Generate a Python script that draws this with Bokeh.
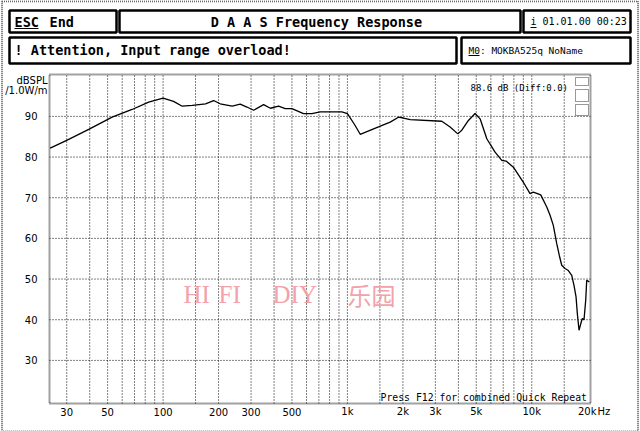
import math
from bokeh.plotting import figure
from bokeh.models import Range1d, LogScale, LinearScale
from bokeh.embed import file_html
from bokeh.resources import INLINE
from bokeh.core.properties import value

# ---- data ----
freq_hz = [24.4, 30, 39.5, 52.9, 67.9, 83.5, 100, 114, 127, 144, 170, 188, 204, 237, 262,
           285, 310, 351, 382, 423, 460, 500, 578, 642, 712, 933, 1000, 1093, 1173, 1474,
           1706, 1892, 2014, 2190, 3250, 3607, 3970, 4174, 4533, 4928, 5246, 5703, 6324,
           6877, 7258, 7950, 9006, 9790, 10200, 11190, 12060, 12570, 13090, 13660, 14110,
           14540, 15150, 15790, 16480, 16960, 17390, 17670, 18050, 18440, 18810, 19210,
           19620, 19870, 20520]
spl_db = [82.2, 84.1, 86.8, 89.8, 91.7, 93.5, 94.5, 93.7, 92.5, 92.7, 93.1, 93.9, 93.1, 92.5,
          93.0, 92.3, 91.5, 92.9, 92.0, 92.5, 91.9, 91.9, 90.7, 90.7, 91.1, 91.1, 90.7, 88.0,
          85.6, 87.4, 88.6, 89.8, 89.6, 89.2, 88.8, 87.4, 85.7, 86.6, 89.0, 90.7, 89.4, 84.5,
          81.2, 79.2, 79.0, 77.5, 73.8, 71.0, 71.4, 70.7, 67.7, 65.7, 63.2, 58.7, 55.8, 53.4,
          52.6, 52.1, 50.9, 48.4, 45.6, 41.5, 37.4, 39.0, 40.3, 40.0, 44.8, 49.7, 49.3]

x_ticks = [30, 50, 100, 200, 300, 500, 1000, 2000, 3000, 5000, 10000, 20000]
x_tick_labels = ["30", "50", "100", "200", "300", "500", "1k", "2k", "3k", "5k", "10k", "20k"]
x_grid = [30, 40, 50, 60, 70, 80, 90, 100, 150, 200, 300, 400, 500, 600, 700, 800, 900,
          1000, 1500, 2000, 3000, 4000, 5000, 6000, 7000, 8000, 9000, 10000, 15000]
y_ticks = [30, 40, 50, 60, 70, 80, 90]
y_tick_labels = ["30", "40", "50", "60", "70", "80", "90"]

F_MIN, F_MAX = 24.2, 20830.0      # axis limits (Hz)
DB_MIN, DB_MAX = 19.4, 100.3      # axis limits (dB)

W, H = 640, 431
PL, PR, PT, PB = 49, 590, 74, 403  # plot area on the canvas (pixels)

# extend the data ranges so that the axis limits land on the plot-area edges
dec_px = (PR - PL) / math.log10(F_MAX / F_MIN)
fx0 = F_MIN / 10 ** (PL / dec_px)
fx1 = F_MAX * 10 ** ((W - PR) / dec_px)
db_px = (PB - PT) / (DB_MAX - DB_MIN)
dy0 = DB_MIN - (H - PB) / db_px
dy1 = DB_MAX + PT / db_px

MONO = "DejaVu Sans Mono"
SANS = "DejaVu Sans"

p = figure(width=W, height=H, x_range=Range1d(0, W), y_range=Range1d(H, 0),
           output_backend="svg", toolbar_location=None, min_border=0,
           x_axis_location=None, y_axis_location=None)
p.extra_x_ranges = {"freq": Range1d(fx0, fx1)}
p.extra_x_scales = {"freq": LogScale()}
p.extra_y_ranges = {"db": Range1d(dy0, dy1)}
p.extra_y_scales = {"db": LinearScale()}
p.grid.visible = False
p.outline_line_color = None
p.background_fill_color = "white"
p.border_fill_color = "white"

# outer checkered page border
p.quad(left=[1.5], right=[637.5], top=[0.8], bottom=[431], fill_color=None,
       line_color="#666666", line_width=2, line_dash="1 1")

# ---- header boxes ----
p.quad(left=[9, 119, 523, 9, 461], right=[116, 520, 630, 456, 630],
       top=[10, 10, 10, 37, 37], bottom=[32, 32, 32, 63, 63],
       fill_color=None, line_color="black", line_width=2.5)

def ptext(x, y, t, font=MONO, size="13.5px", bold=False, align="left", color="black", **kw):
    p.text(x=[x], y=[y], text=[t], text_font=value(font), text_font_size=size,
           text_font_style="bold" if bold else "normal", text_align=align,
           text_baseline="middle", text_color=color, **kw)

ptext(14, 21, "ESC", bold=True)
ptext(49, 21, "End", bold=True)
ptext(320, 21, "D A A S  Frequency Response", bold=True, align="center")
ptext(530, 21, "i 01.01.00 00:23", size="10px")
ptext(14, 49.5, "! Attention, Input range overload!", bold=True)
ptext(468, 49.5, "M0: MOKBA525q NoName", size="9.5px")
p.segment(x0=[14, 530, 468], y0=[28, 27, 55], x1=[38, 536, 479], y1=[28, 27, 55],
          line_color="black", line_width=1)

# ---- plot area: grid, frame, curve (through log / linear scales) ----
p.segment(x0=x_grid, x1=x_grid, y0=[DB_MIN] * len(x_grid), y1=[DB_MAX] * len(x_grid),
          x_range_name="freq", y_range_name="db",
          line_color="black", line_width=1, line_dash="1 2")
p.segment(x0=[F_MIN] * len(y_ticks), x1=[F_MAX] * len(y_ticks), y0=y_ticks, y1=y_ticks,
          x_range_name="freq", y_range_name="db",
          line_color="black", line_width=1, line_dash="1 2")
p.quad(left=[F_MIN], right=[F_MAX], bottom=[DB_MIN], top=[DB_MAX],
       x_range_name="freq", y_range_name="db",
       fill_color=None, line_color="#444444", line_width=2, line_dash="1 1")
p.line(freq_hz, spl_db, x_range_name="freq", y_range_name="db",
       line_color="black", line_width=1.3)

# tick labels placed by the scales
p.text(x=x_ticks, y=[411] * len(x_ticks), text=x_tick_labels, x_range_name="freq",
       text_font=value(SANS), text_font_size="10px", text_align="center",
       text_baseline="middle", text_color="black")
p.text(x=[37] * len(y_ticks), y=y_ticks, text=y_tick_labels, y_range_name="db",
       text_font=value(SANS), text_font_size="10px", text_align="right",
       text_baseline="middle", text_color="black")
ptext(597, 411, "Hz", font=SANS, size="10px")

# axis unit label
ptext(47, 80, "dBSPL", font=SANS, size="10px", align="right")
ptext(47, 89.5, "/1.0W/m", font=SANS, size="10px", align="right")

# status texts inside the plot
ptext(470, 87, "88.6 dB (Diff:0.0)", size="9px")
ptext(380, 397, "Press F12 for combined Quick Repeat", size="9.8px")
p.quad(left=[575, 575, 575], right=[588, 588, 588], top=[77, 89, 104], bottom=[85, 101, 115],
       fill_color=None, line_color="#333333", line_width=1, line_dash="1 1")

# watermark
pink = "#f2a2aa"
ptext(183, 294, "HI", font="Liberation Serif", size="25px", color=pink)
ptext(218, 294, "FI", font="Liberation Serif", size="25px", color=pink)
ptext(272, 294, "DIY", font="Liberation Serif", size="25px", color=pink)
ptext(347, 294, "乐园", font="Noto Sans CJK SC", size="24px", color=pink)

open("out.html", "w").write(file_html(p, INLINE))
